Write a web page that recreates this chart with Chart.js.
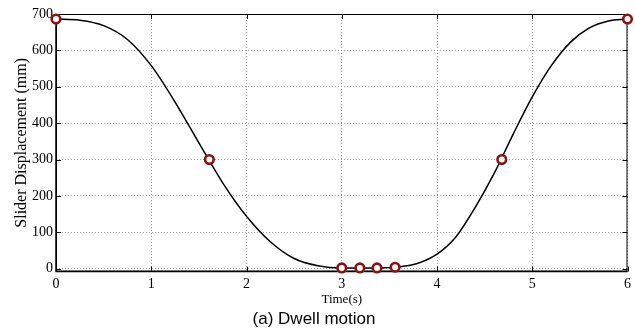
<!DOCTYPE html>
<html>
<head>
<meta charset="utf-8">
<script src="https://cdn.jsdelivr.net/npm/chart.js@4"></script>
<style>
  html, body { margin: 0; padding: 0; background: #fff; }
  #wrap { width: 635px; height: 333px; }
</style>
</head>
<body>
<div id="wrap"><canvas id="dwellChart" width="635" height="333"></canvas></div>
<script>
// Slider displacement curve
const timeS = [0, 0.25, 0.5, 0.75, 1.0, 1.25, 1.5, 1.75, 2.0, 2.25, 2.5, 2.75, 3.0,
  3.2, 3.4, 3.6, 3.8, 4.0, 4.2, 4.4, 4.6, 4.8, 5.0, 5.2, 5.4, 5.6, 5.8, 6.0];
const dispMm = [686, 683, 668, 630, 558, 458, 346, 236, 144, 74, 28, 8, 2,
  2, 2, 5, 15, 40, 88, 168, 262, 370, 472, 558, 622, 662, 681, 686];

// open circle markers
const markerT = [0, 1.61, 3.0, 3.19, 3.37, 3.56, 4.68, 6.0];
const markerMm = [686, 300, 2, 2, 2, 4, 300, 686];

const xTicks = [0, 1, 2, 3, 4, 5, 6];
const yTicks = [0, 100, 200, 300, 400, 500, 600, 700];

const serif = "'Liberation Serif', 'Times New Roman', serif";

// MATLAB style box with inward tick marks
const framePlugin = {
  id: "frame",
  beforeDatasetsDraw(chart) {
    const { ctx, chartArea: a, scales } = chart;
    const x = scales.x, y = scales.y;
    ctx.save();
    ctx.strokeStyle = "#000";
    ctx.lineWidth = 1;
    ctx.strokeRect(a.left + 0.5, a.top + 0.5, a.right - a.left - 1, a.bottom - a.top - 1);
    ctx.lineWidth = 1.5;
    ctx.beginPath();
    ctx.moveTo(a.left, a.top);
    ctx.lineTo(a.left, a.bottom);
    ctx.lineTo(a.right, a.bottom);
    ctx.stroke();
    ctx.lineWidth = 1;
    ctx.beginPath();
    yTicks.forEach(v => {
      const py = Math.round(y.getPixelForValue(v)) + 0.5;
      ctx.moveTo(a.left, py); ctx.lineTo(a.left + 5, py);
      ctx.moveTo(a.right, py); ctx.lineTo(a.right - 5, py);
    });
    xTicks.forEach(v => {
      const px = Math.round(x.getPixelForValue(v)) + 0.5;
      ctx.moveTo(px, a.bottom); ctx.lineTo(px, a.bottom - 5);
      ctx.moveTo(px, a.top); ctx.lineTo(px, a.top + 5);
    });
    ctx.stroke();
    ctx.restore();
  }
};

const ctx = document.getElementById("dwellChart").getContext("2d");

new Chart(ctx, {
  type: "scatter",
  data: {
    datasets: [
      {
        data: markerT.map((t, i) => ({ x: t, y: markerMm[i] })),
        showLine: false,
        pointStyle: "circle",
        pointRadius: 4.3,
        pointBorderWidth: 2.6,
        pointBorderColor: "#8b1212",
        pointBackgroundColor: "#fff",
        clip: false,
        order: 0
      },
      {
        data: timeS.map((t, i) => ({ x: t, y: dispMm[i] })),
        showLine: true,
        borderColor: "#000",
        borderWidth: 1.5,
        pointRadius: 0,
        cubicInterpolationMode: "monotone",
        order: 1
      }
    ]
  },
  options: {
    responsive: false,
    animation: false,
    layout: { padding: { left: 0, right: 7, top: 14, bottom: 0 } },
    plugins: {
      legend: { display: false },
      tooltip: { enabled: false },
      title: {
        display: true,
        text: "(a) Dwell motion",
        position: "bottom",
        color: "#000",
        font: { family: "'Liberation Sans', Arial, sans-serif", size: 17, weight: "normal" },
        padding: { top: 2, bottom: 3 }
      }
    },
    scales: {
      x: {
        type: "linear",
        min: 0,
        max: 6,
        afterBuildTicks: s => { s.ticks = xTicks.map(v => ({ value: v })); },
        afterFit: s => { s.height = 36; },
        ticks: { color: "#000", font: { family: serif, size: 14 }, padding: 4 },
        grid: { color: "#9a9a9a", lineWidth: 1, drawTicks: false },
        border: { display: false, dash: [1, 2] },
        title: {
          display: true,
          text: "Time(s)",
          color: "#000",
          font: { family: serif, size: 13 },
          padding: { top: 0, bottom: 0 }
        }
      },
      y: {
        type: "linear",
        min: -8,
        max: 700,
        afterBuildTicks: s => { s.ticks = yTicks.map(v => ({ value: v })); },
        afterFit: s => { s.width = 56; },
        ticks: { color: "#000", font: { family: serif, size: 14 }, padding: 3 },
        grid: { color: "#9a9a9a", lineWidth: 1, drawTicks: false },
        border: { display: false, dash: [1, 2] },
        title: {
          display: true,
          text: "Slider Displacement (mm)",
          color: "#000",
          font: { family: serif, size: 16 },
          padding: { top: 12, bottom: 0 }
        }
      }
    }
  },
  plugins: [framePlugin]
});
</script>
</body>
</html>
